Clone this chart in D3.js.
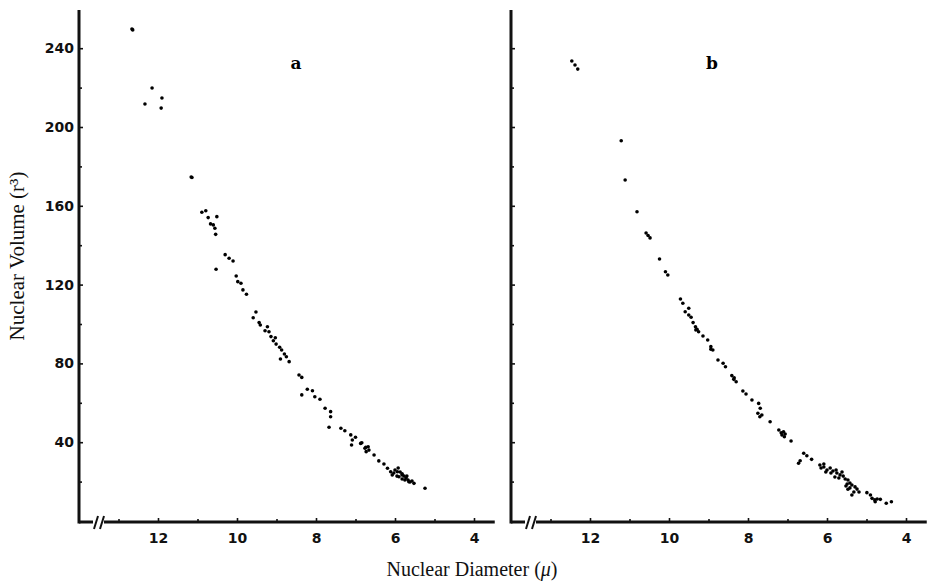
<!DOCTYPE html>
<html>
<head>
<meta charset="utf-8">
<script src="https://cdn.jsdelivr.net/npm/d3@7"></script>
<style>
  body { margin: 0; background: #fff; }
  svg { display: block; }
</style>
</head>
<body>
<svg id="chart"></svg>
<script>
document.addEventListener('DOMContentLoaded', function(){

    const width = 927;
    const height = 584;

    // panel a: [diameter (u), volume (r^3)]
    const cellsA = [
        [12.66,249.7],[12.64,249.3],[12.15,219.8],[12.33,211.7],[11.90,214.7],[11.92,209.6],
        [11.16,174.6],[11.14,174.4],[10.89,156.7],[10.79,157.5],[10.73,154.0],[10.51,154.5],
        [10.67,150.8],[10.60,150.3],[10.56,148.6],[10.54,145.5],[10.30,135.2],[10.20,133.4],
        [10.10,132.0],[10.53,127.8],[10.02,124.4],[9.98,121.5],[9.90,120.7],[9.85,117.3],
        [9.76,115.1],[9.52,106.1],[9.59,103.2],[9.44,100.7],[9.41,99.5],[9.23,98.6],
        [9.29,96.6],[9.19,96.1],[9.14,93.6],[9.03,93.0],[9.08,91.5],[9.01,89.8],
        [8.92,88.2],[8.87,86.8],[8.80,84.8],[8.75,83.4],[8.90,82.2],[8.68,80.9],
        [8.43,74.1],[8.36,72.9],[8.36,64.0],[8.22,66.9],[8.09,66.1],[8.03,63.1],
        [7.90,61.8],[7.77,57.2],[7.63,55.5],[7.63,52.9],[7.67,47.6],[7.37,47.1],
        [7.27,45.8],[7.12,43.7],[7.08,41.1],[7.00,42.5],[7.10,38.6],[6.87,39.4],
        [6.74,37.4],[6.66,36.0],[6.53,33.5],[6.41,30.5],[6.28,28.9],[6.19,26.8],
        [6.11,25.0],[6.07,23.4],[5.94,25.0],[5.90,22.5],[5.82,23.4],[5.75,20.8],
        [5.65,19.9],[5.52,19.1],[5.24,16.6],[6.84,39.7],[6.76,36.9],[6.73,35.2],
        [6.68,37.7],[6.00,25.9],[5.92,26.9],[5.87,24.9],[5.82,23.9],[5.77,22.8],
        [5.72,21.8],[5.67,20.8],[5.62,19.8],[5.82,21.3],[5.95,22.8],[5.57,20.3],
        [5.70,22.8],[6.03,24.4]
    ];

    // panel b
    const cellsB = [
        [12.46,233.5],[12.38,231.5],[12.31,229.4],[11.21,193.0],[11.11,173.1],[10.81,157.0],
        [10.58,146.2],[10.53,144.9],[10.48,143.7],[10.24,133.0],[10.09,126.5],[10.03,124.9],
        [9.71,112.7],[9.65,110.5],[9.50,108.0],[9.59,106.2],[9.50,104.6],[9.44,103.4],
        [9.39,100.7],[9.33,98.6],[9.29,97.3],[9.25,96.1],[9.32,97.0],[9.14,93.9],
        [9.02,91.9],[8.94,88.5],[8.89,86.8],[8.94,87.2],[8.76,81.7],[8.63,80.1],
        [8.57,78.3],[8.41,73.8],[8.35,72.7],[8.30,70.7],[8.36,71.9],[8.13,66.0],
        [8.05,64.5],[7.90,61.4],[7.73,59.7],[7.69,57.2],[7.75,54.7],[7.65,53.8],
        [7.70,52.9],[7.44,50.4],[7.22,46.2],[7.16,44.8],[7.10,45.3],[7.06,44.2],
        [7.14,43.7],[7.08,42.8],[6.91,40.6],[6.59,34.4],[6.51,33.1],[6.68,30.6],
        [6.72,29.3],[6.39,31.3],[6.18,28.4],[6.08,27.4],[6.00,25.9],[5.92,26.9],
        [5.85,25.4],[5.75,24.4],[5.67,23.4],[5.59,22.8],[5.54,21.3],[5.47,20.8],
        [5.42,19.3],[5.37,18.3],[5.29,17.3],[5.24,16.2],[5.32,14.7],[5.19,14.7],
        [5.52,17.8],[5.80,22.3],[6.03,24.9],[5.47,16.1],[5.37,13.2],[5.90,24.4],
        [5.70,21.8],[5.62,24.9],[5.49,18.8],[6.15,26.9],[6.08,28.9],[5.77,25.9],
        [5.42,16.8],[4.99,14.4],[4.90,13.2],[4.86,11.5],[4.79,10.7],[4.73,11.2],
        [4.78,9.8],[4.65,11.0],[4.50,9.0],[4.37,9.8]
    ];

    const xMajor = [12, 10, 8, 6, 4];
    const xMinor = [13, 11, 9, 7, 5];
    const yMajor = [40, 80, 120, 160, 200, 240];
    const yMinor = [20, 60, 100, 140, 180, 220];

    const svg = d3.select("#chart")
                  .attr("width", width)
                  .attr("height", height);

    const panels = [
        { left: 79,  cells: cellsA, tag: "a", tagX: 296, labels: true },
        { left: 511, cells: cellsB, tag: "b", tagX: 712, labels: false }
    ];

    const pxPerMicron = 39.5;
    const pxPerUnit = 1.97;
    const base = 521;

    panels.forEach(p => {
        const x = d3.scaleLinear()
                    .domain([14, 3.5])
                    .range([p.left, p.left + 10.5 * pxPerMicron]);
        const y = d3.scaleLinear()
                    .domain([0, 260])
                    .range([base, base - 260 * pxPerUnit]);

        const g = svg.append("g");

        // y axis
        const yAxis = g.append("g")
            .attr("transform", `translate(${p.left},0)`)
            .call(d3.axisLeft(y)
                    .tickValues(yMajor)
                    .tickSizeInner(-4)
                    .tickSizeOuter(0)
                    .tickPadding(5)
                    .tickFormat(p.labels ? d3.format("d") : ""));
        g.append("g")
            .attr("transform", `translate(${p.left},0)`)
            .call(d3.axisLeft(y).tickValues(yMinor).tickSize(-3).tickFormat(""))
            .select(".domain").remove();

        // x axis
        const xAxis = g.append("g")
            .attr("transform", `translate(0,${base + 1})`)
            .call(d3.axisBottom(x)
                    .tickValues(xMajor)
                    .tickSizeInner(-4)
                    .tickSizeOuter(0)
                    .tickPadding(11)
                    .tickFormat(d3.format("d")));
        g.append("g")
            .attr("transform", `translate(0,${base + 1})`)
            .call(d3.axisBottom(x).tickValues(xMinor).tickSize(-3).tickFormat(""))
            .select(".domain").remove();

        [yAxis, xAxis].forEach(a => a.select(".domain").remove());
        g.selectAll(".tick line").attr("stroke", "#111").attr("stroke-width", 1.6);
        g.selectAll(".tick text")
            .attr("font-family", "DejaVu Sans")
            .attr("font-weight", "bold")
            .attr("font-size", 14)
            .attr("fill", "#111");

        // axis lines, with the break on the diameter axis
        const axisY = base + 1;
        const right = Math.min(width, p.left + 10.5 * pxPerMicron + 1);
        g.append("line")
            .attr("x1", p.left).attr("x2", p.left)
            .attr("y1", 10).attr("y2", axisY + 1.5)
            .attr("stroke", "#111").attr("stroke-width", 3);
        g.append("line")
            .attr("x1", p.left).attr("x2", p.left + 14)
            .attr("y1", axisY).attr("y2", axisY)
            .attr("stroke", "#111").attr("stroke-width", 3);
        g.append("line")
            .attr("x1", p.left + 25).attr("x2", right)
            .attr("y1", axisY).attr("y2", axisY)
            .attr("stroke", "#111").attr("stroke-width", 3);
        [p.left + 15, p.left + 21].forEach(bx => {
            g.append("line")
                .attr("x1", bx).attr("y1", axisY + 7)
                .attr("x2", bx + 4).attr("y2", axisY - 6)
                .attr("stroke", "#111").attr("stroke-width", 2);
        });

        // cells
        g.append("g")
            .selectAll("circle")
            .data(p.cells)
            .join("circle")
            .attr("cx", d => x(d[0]))
            .attr("cy", d => y(d[1]))
            .attr("r", 1.8)
            .attr("fill", "#000");

        // panel tag
        g.append("text")
            .attr("x", p.tagX)
            .attr("y", 69)
            .attr("text-anchor", "middle")
            .attr("font-family", "DejaVu Serif")
            .attr("font-weight", "bold")
            .attr("font-size", 17)
            .text(p.tag);
    });

    // axis titles
    svg.append("text")
        .attr("transform", "translate(24,256) rotate(-90)")
        .attr("text-anchor", "middle")
        .attr("font-family", "Liberation Serif")
        .attr("font-size", 21)
        .attr("fill", "#111")
        .text("Nuclear Volume (r³)");

    const xt = svg.append("text")
        .attr("x", 472)
        .attr("y", 576)
        .attr("text-anchor", "middle")
        .attr("font-family", "Liberation Serif")
        .attr("font-size", 20)
        .attr("fill", "#111");
    xt.append("tspan").text("Nuclear Diameter (");
    xt.append("tspan").attr("font-style", "italic").text("μ");
    xt.append("tspan").text(")");

});
</script>
</body>
</html>
